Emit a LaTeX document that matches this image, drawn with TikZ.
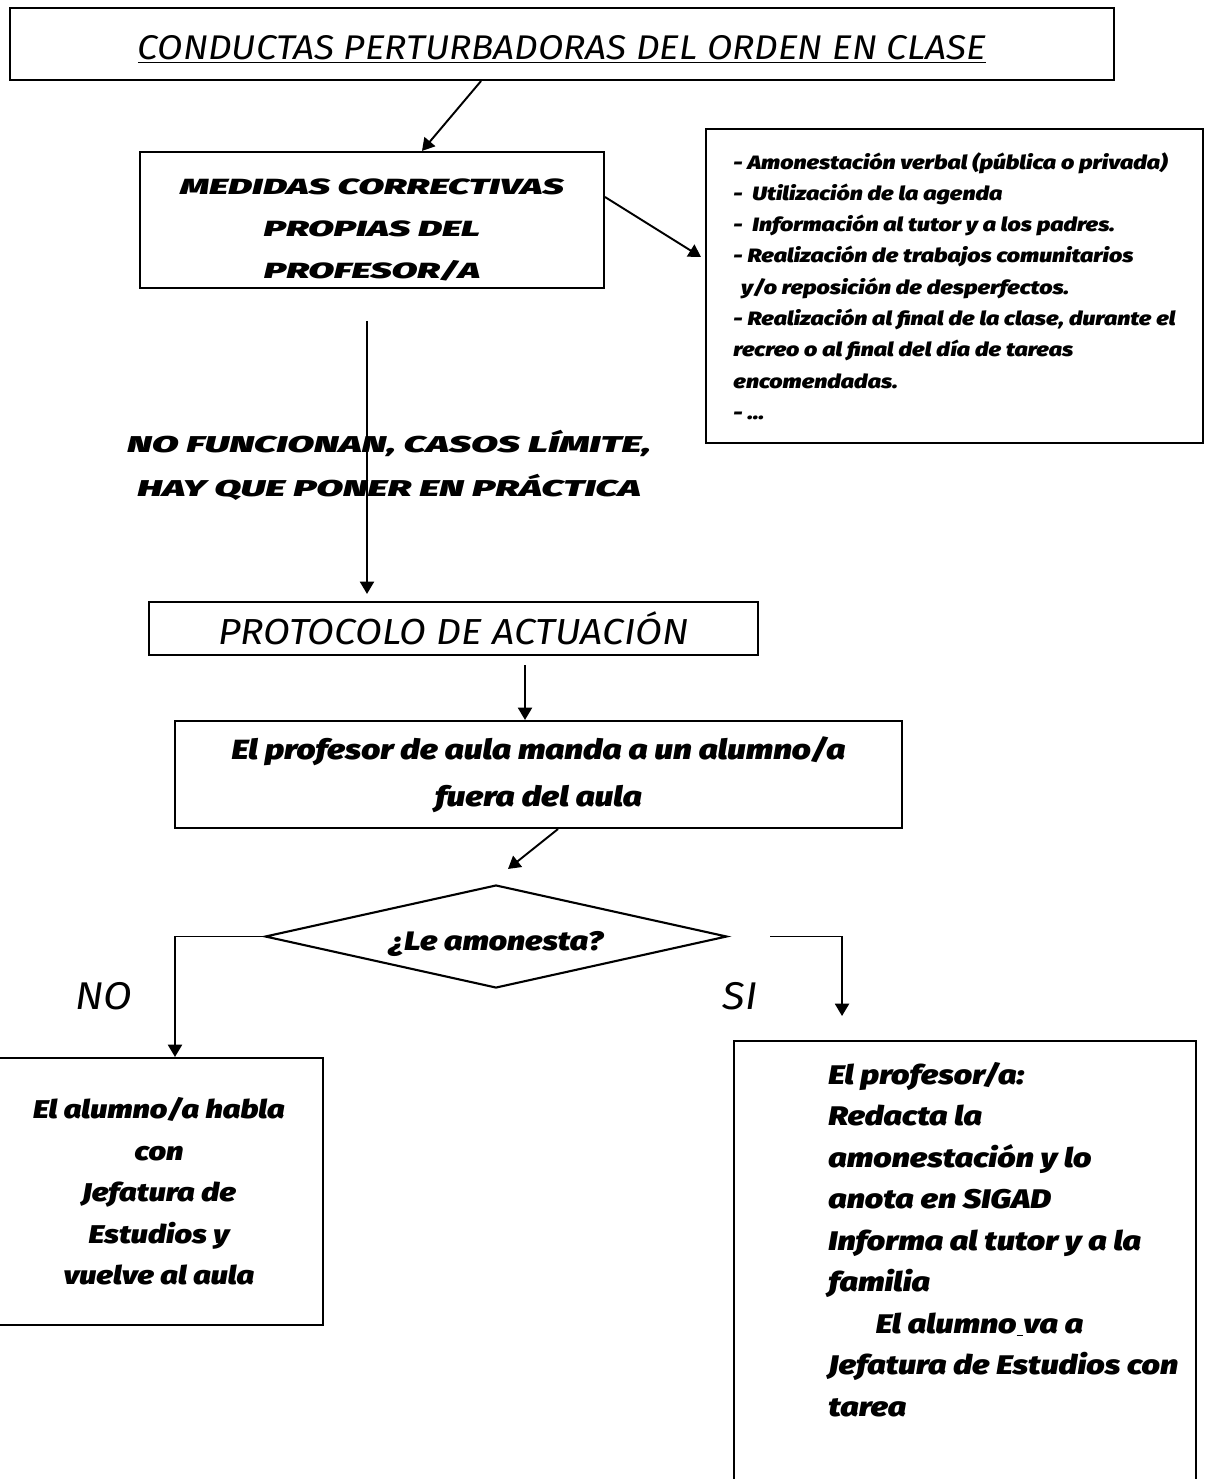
\documentclass[tikz,border=0pt]{standalone}
\usepackage{fontspec}
\usepackage{tikz}
\usetikzlibrary{positioning}
\usetikzlibrary{shapes.geometric}
\usetikzlibrary{arrows.meta}

\newfontfamily\heavyfont{Fira Sans Black Italic}[FakeStretch=1.2]
\newfontfamily\capsfont{Fira Sans Black Italic}[FakeStretch=1.7]
\newfontfamily\lightfont{Fira Sans Italic}[FakeStretch=1.08]

\tikzset{
  caja/.style={draw, line width=1.2pt, inner sep=0pt},
  flecha/.style={-{Triangle[length=7pt,width=8pt]}, line width=1.1pt},
  fina/.style={font=\lightfont\fontsize{#1}{#1}\selectfont},
}

\begin{document}
\begin{tikzpicture}[x=0.02cm,y=0.02cm]

  \useasboundingbox (0,0) rectangle (1205,-1479);

  % Nodes

  \node[caja, fina=19.5, text height=20pt, text depth=2.8pt, minimum width=22.1cm, minimum height=1.44cm] (titulo) at (562,-44) {\underline{CONDUCTAS PERTURBADORAS DEL ORDEN EN CLASE}} ; %
  \node[caja, minimum width=9.28cm, minimum height=2.72cm, font=\capsfont\fontsize{12.5}{24}\selectfont, align=center] (medidas) at (372,-220) {\rule{0pt}{20pt}MEDIDAS CORRECTIVAS\\PROPIAS DEL\\PROFESOR/A} ; %
  \node[caja, minimum width=9.94cm, minimum height=6.28cm, align=left, font=\heavyfont\fontsize{11}{17.8}\selectfont] (lista) at (954.5,-286) {- Amonestación verbal (pública o privada)\\
-~~Utilización de la agenda\\
-~~Información al tutor y a los padres.\\
- Realización de trabajos comunitarios\\
\hspace*{0.4em}y/o reposición de desperfectos.\\
- Realización al final de la clase, durante el\\
recreo o al final del día de tareas\\
encomendadas.\\
- \ldots} ; %

  \node[font=\capsfont\fontsize{13}{25}\selectfont, align=center] (nofunc) at (389,-465) {NO FUNCIONAN, CASOS LÍMITE,\\HAY QUE PONER EN PRÁCTICA} ; %

  \node[caja, fina=20.6, minimum width=12.18cm, minimum height=1.06cm] (protocolo) at (453.5,-628.5) {PROTOCOLO DE ACTUACIÓN} ; %
  \node[caja, minimum width=14.54cm, minimum height=2.14cm, font=\heavyfont\fontsize{15.8}{27}\selectfont, align=center] (profesor) at (538.5,-774.5) {El profesor de aula manda a un alumno/a\\fuera del aula} ; %
  \node[caja, diamond, aspect=4.5, minimum width=9.24cm, minimum height=2.06cm, text height=19pt, font=\heavyfont\fontsize{15.2}{17}\selectfont] (rombo) at (496,-936.5) {¿Le amonesta?} ; %

  \node[fina=22] (no) at (104,-996) {NO} ; %
  \node[fina=22] (si) at (740,-996) {SI} ; %

  \node[caja, minimum width=6.56cm, minimum height=5.34cm, font=\heavyfont\fontsize{14.6}{23.6}\selectfont, align=center] (nobox) at (159,-1191.5) {El alumno/a habla\\con\\Jefatura de\\Estudios y\\vuelve al aula} ; %
  \node[caja, minimum width=9.24cm, minimum height=9.38cm] (sibox) at (965,-1275.5) {} ; %
  \node[below right=22 and 95 of sibox.north west, anchor=north west, inner sep=0pt, align=left, font=\heavyfont\fontsize{15.3}{23.6}\selectfont] (sitexto) {El profesor/a:\\
Redacta la\\
amonestación y lo\\
anota en SIGAD\\
Informa al tutor y a la\\
familia\\
\hspace*{27pt}El alumno\underline{\ }va a\\
Jefatura de Estudios con\\
tarea} ; %

  \coordinate (arranque) at (367,-321) ; %

  % Edges

  \draw[flecha] ([xshift=-1.62cm]titulo.south) -- ([xshift=1.0cm]medidas.north) ; %
  \draw[flecha] ([yshift=0.46cm]medidas.east) -- ([xshift=-0.08cm,yshift=0.58cm]lista.west) ; %
  \draw[flecha, shorten >=4pt] (arranque) -- (arranque |- protocolo.north) ; %
  \draw[flecha] ([xshift=1.43cm,yshift=-0.18cm]protocolo.south) -- ([xshift=-0.27cm]profesor.north) ; %
  \draw[flecha] ([xshift=0.39cm]profesor.south) -- ([xshift=0.24cm,yshift=0.3cm]rombo.north) ; %
  \draw[flecha] (rombo.west) -| ([xshift=0.32cm]nobox.north) ; %
  \draw[flecha] ([xshift=0.84cm]rombo.east) -| ([xshift=-2.46cm,yshift=0.48cm]sibox.north) ; %

\end{tikzpicture}
\end{document}
